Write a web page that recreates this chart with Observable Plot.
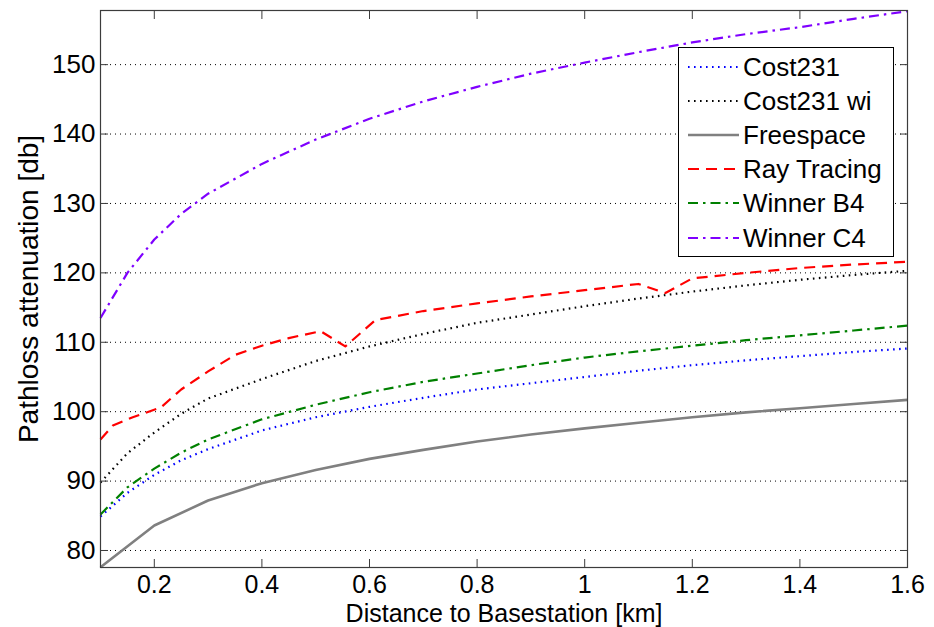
<!DOCTYPE html>
<html>
<head>
<meta charset="utf-8">
<script src="https://cdn.jsdelivr.net/npm/d3@7"></script>
<script src="https://cdn.jsdelivr.net/npm/@observablehq/plot@0.6"></script>
<style>
  html, body { margin: 0; padding: 0; background: #fff; }
  #wrap { position: relative; width: 934px; height: 627px; font-family: "Liberation Sans", Arial, sans-serif; }
  #legend { position: absolute; left: 678px; top: 47px; width: 216px; height: 210px; box-sizing: border-box;
            border: 1px solid #000; background: #fff; }
  .row { position: absolute; left: 0; height: 34px; display: flex; align-items: center; }
  .row svg { display: block; }
  .row span { font-size: 26px; color: #000; margin-left: 2px; white-space: nowrap; line-height: 34px; }
</style>
</head>
<body>
<div id="wrap"></div>
<script>
// ---- data ----
const distance     = [0.1, 0.15, 0.2, 0.25, 0.3, 0.4, 0.5, 0.6, 0.7, 0.8, 0.9, 1.0, 1.1, 1.2, 1.3, 1.4, 1.5, 1.6];
const cost231      = [84.9, 88.3, 90.9, 93.0, 94.6, 97.3, 99.2, 100.7, 102.0, 103.2, 104.1, 105.0, 105.9, 106.7, 107.4, 108.0, 108.6, 109.1];
const cost231wi    = [89.8, 94.0, 97.0, 99.7, 101.9, 104.7, 107.3, 109.4, 111.2, 112.8, 114.0, 115.2, 116.3, 117.3, 118.2, 119.0, 119.7, 120.3];
const winnerB4     = [85.2, 89.1, 91.8, 94.1, 96.0, 98.9, 101.0, 102.8, 104.3, 105.5, 106.7, 107.8, 108.7, 109.5, 110.3, 111.0, 111.7, 112.4];
const winnerC4     = [113.5, 120.0, 124.8, 128.5, 131.4, 135.7, 139.2, 142.2, 144.7, 146.8, 148.7, 150.3, 151.8, 153.2, 154.4, 155.4, 156.6, 157.7];

const freeDistance = [0.1, 0.2, 0.3, 0.4, 0.5, 0.6, 0.7, 0.8, 0.9, 1.0, 1.1, 1.2, 1.3, 1.4, 1.5, 1.6];
const freespace    = [77.6, 83.6, 87.2, 89.7, 91.6, 93.2, 94.5, 95.7, 96.7, 97.6, 98.4, 99.2, 99.9, 100.5, 101.1, 101.7];

const rayDistance  = [0.1, 0.123, 0.16, 0.212, 0.25, 0.3, 0.351, 0.4, 0.45, 0.509, 0.555, 0.611, 0.7, 0.8, 0.9, 1.0, 1.1, 1.15, 1.2, 1.3, 1.4, 1.5, 1.6];
const rayTracing   = [96.0, 98.0, 99.2, 100.6, 103.2, 105.8, 108.2, 109.5, 110.6, 111.6, 109.4, 113.2, 114.5, 115.6, 116.6, 117.5, 118.4, 117.1, 119.2, 120.0, 120.7, 121.2, 121.6];

const xTicks = [0.2, 0.4, 0.6, 0.8, 1, 1.2, 1.4, 1.6];
const yTicks = [80, 90, 100, 110, 120, 130, 140, 150];
const xLabel = "Distance to Basestation [km]";
const yLabel = "Pathloss attenuation [db]";

const seriesNames = ["Cost231", "Cost231 wi", "Freespace", "Ray Tracing", "Winner B4", "Winner C4"];
const seriesColors = ["#0000ff", "#000000", "#808080", "#ff0000", "#008000", "#7f00ff"];
const seriesDash = ["1.6,4.4", "1.6,4.4", null, "11,7", "10,5,2.5,5", "10,5,2.5,5"];
const seriesWidth = [2.2, 2.2, 2.6, 2.2, 2.2, 2.2];

// ---- build tables ----
const table = (xs, ys) => xs.map((x, i) => ({x, y: ys[i]}));
const seriesData = [
  table(distance, cost231),
  table(distance, cost231wi),
  table(freeDistance, freespace),
  table(rayDistance, rayTracing),
  table(distance, winnerB4),
  table(distance, winnerC4)
];

const lineMarks = seriesData.map((data, i) => Plot.line(data, {
  x: "x", y: "y",
  stroke: seriesColors[i],
  strokeWidth: seriesWidth[i],
  strokeDasharray: seriesDash[i] ?? undefined,
  strokeLinecap: "butt",
  strokeLinejoin: "round"
}));

const chart = Plot.plot({
  width: 934,
  height: 627,
  marginLeft: 100,
  marginRight: 27,
  marginTop: 10,
  marginBottom: 60,
  style: {fontFamily: "'Liberation Sans', Arial, sans-serif", fontSize: "25px", background: "#fff", color: "#000", overflow: "visible"},
  x: {domain: [0.1, 1.6]},
  y: {domain: [77.55, 157.8]},
  marks: [
    Plot.gridY(yTicks, {stroke: "#000", strokeOpacity: 1, strokeWidth: 1, strokeDasharray: "1,4"}),
    ...lineMarks,
    Plot.frame({stroke: "#3c3c3c", strokeWidth: 1.2}),
    Plot.axisX(xTicks, {anchor: "bottom", tickSize: -8, tickPadding: 16, stroke: "#3c3c3c", fontSize: 25, tickFormat: d => String(d), label: null}),
    Plot.axisX(xTicks, {anchor: "top", tickSize: -8, fill: "none", stroke: "#3c3c3c", label: null}),
    Plot.axisY(yTicks, {anchor: "left", tickSize: -8, tickPadding: 13, stroke: "#3c3c3c", fontSize: 26, label: null}),
    Plot.axisY(yTicks, {anchor: "right", tickSize: -8, fill: "none", stroke: "#3c3c3c", label: null}),
    Plot.text([xLabel], {frameAnchor: "bottom", lineAnchor: "middle", dy: 46, fontSize: 25, fill: "#000"}),
    Plot.text([yLabel], {frameAnchor: "left", textAnchor: "middle", rotate: -90, dx: -71, fontSize: 28, fill: "#000"})
  ]
});

const wrap = document.getElementById("wrap");
wrap.appendChild(chart);

// ---- legend ----
const legend = document.createElement("div");
legend.id = "legend";
seriesNames.forEach((name, i) => {
  const row = document.createElement("div");
  row.className = "row";
  row.style.top = (2 + i * 34.1) + "px";
  const svg = d3.create("svg").attr("width", 62).attr("height", 34);
  svg.append("line")
    .attr("x1", 9).attr("x2", 60).attr("y1", 17).attr("y2", 17)
    .attr("stroke", seriesColors[i])
    .attr("stroke-width", seriesWidth[i])
    .attr("stroke-dasharray", seriesDash[i])
    .attr("stroke-linecap", "butt");
  row.appendChild(svg.node());
  const span = document.createElement("span");
  span.textContent = name;
  row.appendChild(span);
  legend.appendChild(row);
});
wrap.appendChild(legend);
</script>
</body>
</html>
